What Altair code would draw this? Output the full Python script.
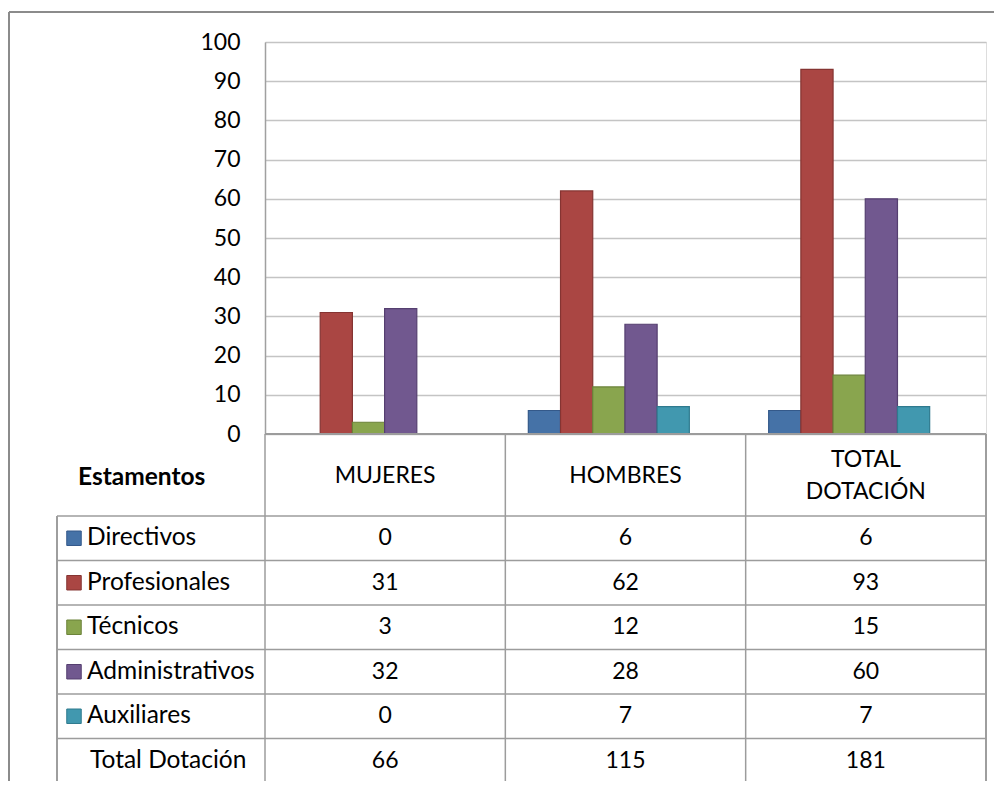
import altair as alt
import pandas as pd

categories = ["MUJERES", "HOMBRES", "TOTAL DOTACIÓN"]
header_labels = ["MUJERES", "HOMBRES", "TOTAL\nDOTACIÓN"]
series = ["Directivos", "Profesionales", "Técnicos", "Administrativos", "Auxiliares"]
mujeres = [0, 31, 3, 32, 0]
hombres = [6, 62, 12, 28, 7]
total_dotacion = [6, 93, 15, 60, 7]
totals = [66, 115, 181]
total_label = "Total Dotación"
colors = ["#4572A7", "#AA4643", "#89A54E", "#71588F", "#4198AF"]
strokes = ["#34598A", "#853432", "#6B8239", "#553F70", "#2F7A8E"]

FONT = "Lato"
FS = 23
FS_LAB = 24.5
W, H = 721, 392
ROW_TOP, ROW_BOTTOM = 474, 741
LEFT = -208
GRID = "#9C9C9C"

rows = series + [total_label]

recs = []
for cat, vals in zip(categories, [mujeres, hombres, total_dotacion]):
    for s, v in zip(series, vals):
        recs.append({"cat": cat, "serie": s, "value": v})
bars_df = pd.DataFrame(recs)
for cat, t in zip(categories, totals):
    recs.append({"cat": cat, "serie": total_label, "value": t})
table_df = pd.DataFrame(recs)
head_df = pd.DataFrame({"cat": categories, "label": header_labels})
rows_df = pd.DataFrame({"row": rows})
legend_df = pd.DataFrame({"row": series})

xscale = alt.Scale(domain=categories, paddingInner=0, paddingOuter=0)
row_scale = alt.Scale(domain=rows, range=[ROW_TOP, ROW_BOTTOM], paddingInner=0, paddingOuter=0)
color_scale = alt.Scale(domain=series, range=colors)
stroke_scale = alt.Scale(domain=series, range=strokes)

bars = alt.Chart(bars_df).transform_filter("datum.value > 0").mark_bar(strokeWidth=1.2).encode(
    x=alt.X("cat:N", scale=xscale, axis=None, sort=categories),
    xOffset=alt.XOffset("serie:N", sort=series,
                        scale=alt.Scale(domain=series, paddingInner=0, paddingOuter=0,
                                        range=[23, 184])),
    y=alt.Y("value:Q", scale=alt.Scale(domain=[0, 100]),
            axis=alt.Axis(values=list(range(0, 101, 10)), ticks=False, labelPadding=25,
                          labelFont=FONT, labelFontSize=FS, labelColor="#000000",
                          domainColor="#A0A0A0", domainWidth=1.5,
                          gridColor="#C4C4C4", gridWidth=1.5, title=None)),
    color=alt.Color("serie:N", scale=color_scale, legend=None),
    stroke=alt.Stroke("serie:N", scale=stroke_scale, legend=None),
)

# table grid: horizontal lines
hlines = alt.Chart(rows_df).mark_rule(color=GRID, strokeWidth=1.5).encode(
    y=alt.Y("row:N", scale=row_scale, bandPosition=0, axis=None, sort=rows),
    x=alt.value(LEFT), x2=alt.value(W),
)
hbottom = alt.Chart(rows_df).mark_rule(color=GRID, strokeWidth=1.5).encode(
    y=alt.value(ROW_BOTTOM), x=alt.value(LEFT), x2=alt.value(W))
haxis = alt.Chart(rows_df).mark_rule(color=GRID, strokeWidth=1.5).encode(
    y=alt.value(H), x=alt.value(0), x2=alt.value(W))
vlines = alt.Chart(head_df).mark_rule(color=GRID, strokeWidth=1.5).encode(
    x=alt.X("cat:N", scale=xscale, bandPosition=0, sort=categories),
    y=alt.value(H), y2=alt.value(ROW_BOTTOM))
vright = alt.Chart(head_df).mark_rule(color=GRID, strokeWidth=1.5).encode(
    x=alt.value(W), y=alt.value(H), y2=alt.value(ROW_BOTTOM))
vleft = alt.Chart(head_df).mark_rule(color=GRID, strokeWidth=1.5).encode(
    x=alt.value(LEFT), y=alt.value(ROW_TOP), y2=alt.value(ROW_BOTTOM))

# outer frame
frame_left = alt.Chart(head_df).mark_rule(color="#8A8A8A", strokeWidth=1.5).encode(
    x=alt.value(-256), y=alt.value(-30), y2=alt.value(760))
frame_top = alt.Chart(head_df).mark_rule(color="#8A8A8A", strokeWidth=1.5).encode(
    x=alt.value(-256), x2=alt.value(760), y=alt.value(-30))

# header
head_text = alt.Chart(head_df).mark_text(font=FONT, fontSize=FS, lineBreak="\n",
                                         lineHeight=32, baseline="middle", color="#000000").encode(
    x=alt.X("cat:N", scale=xscale, sort=categories),
    y=alt.value(434),
    text="label:N",
)
head_text = head_text.transform_filter("datum.cat != 'TOTAL DOTACIÓN'")
head_text2 = alt.Chart(head_df).transform_filter("datum.cat == 'TOTAL DOTACIÓN'").mark_text(
    font=FONT, fontSize=FS, lineBreak="\n", lineHeight=32, baseline="middle",
    color="#000000").encode(
    x=alt.X("cat:N", scale=xscale, sort=categories),
    y=alt.value(418),
    text="label:N",
)
estamentos = alt.Chart(head_df).transform_filter("datum.cat == 'MUJERES'").mark_text(
    font=FONT, fontSize=24.5, fontWeight="bold", align="left", baseline="middle",
    color="#000000").encode(
    x=alt.value(-187), y=alt.value(436), text=alt.value("Estamentos"))

# values
val_text = alt.Chart(table_df).mark_text(font=FONT, fontSize=FS, baseline="middle",
                                         color="#000000").encode(
    x=alt.X("cat:N", scale=xscale, sort=categories),
    y=alt.Y("serie:N", scale=row_scale, axis=None, sort=rows),
    text="value:Q",
)

# legend keys in the table
swatch = alt.Chart(legend_df).mark_square(size=210, opacity=1, strokeWidth=1).encode(
    x=alt.value(-191),
    y=alt.Y("row:N", scale=row_scale, axis=None, sort=rows),
    color=alt.Color("row:N", scale=color_scale, legend=None),
    stroke=alt.Stroke("row:N", scale=stroke_scale, legend=None),
)
row_label = alt.Chart(legend_df).mark_text(font=FONT, fontSize=FS_LAB, align="left",
                                           baseline="middle", color="#000000").encode(
    x=alt.value(-178),
    y=alt.Y("row:N", scale=row_scale, axis=None, sort=rows),
    text="row:N",
)
total_row = alt.Chart(pd.DataFrame({"row": [total_label]})).mark_text(
    font=FONT, fontSize=FS_LAB, align="left", baseline="middle", color="#000000").encode(
    x=alt.value(-175),
    y=alt.Y("row:N", scale=row_scale, axis=None, sort=rows),
    text="row:N",
)

chart = alt.layer(
    bars, haxis, hlines, hbottom, vlines, vright, vleft, frame_left, frame_top,
    head_text, head_text2, estamentos, val_text, swatch, row_label, total_row,
).resolve_scale(
    y="independent", color="independent", stroke="independent"
).properties(
    width=W, height=H,
    autosize=alt.AutoSizeParams(type="none"),
    padding={"left": 257, "top": 34, "right": 8, "bottom": 347},
).configure_view(fill="#F0F0F0", stroke=None).configure(background="#FFFFFF")

chart.save("out.html", embed_options={"renderer": "svg", "actions": False})
